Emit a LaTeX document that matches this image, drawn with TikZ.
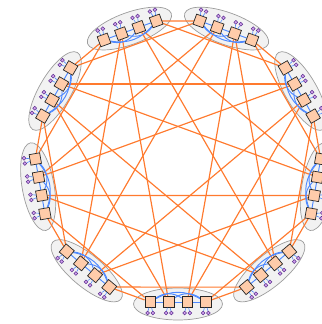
\documentclass[tikz,border=0pt]{standalone}
\usepackage{xcolor}
\usepackage{tikz}
\usetikzlibrary{shapes.geometric, positioning, backgrounds, calc}
\definecolor{dfpeach}{HTML}{FFCCAA}
\definecolor{dforange}{HTML}{FF7A2E}
\definecolor{dfblue}{HTML}{4D88FF}
\definecolor{dfgray}{HTML}{F2F2F2}
\definecolor{dfedge}{HTML}{9C9C9C}
\definecolor{dfviolet}{HTML}{D3A2EE}
\definecolor{dfplum}{HTML}{5E3290}

\begin{document}
\begin{tikzpicture}[
    router/.style={draw=black!85,line width=0.6pt,fill=dfpeach,minimum size=0.32cm,inner sep=0pt},
    host/.style={circle,draw=dfplum,line width=0.45pt,fill=dfviolet,minimum size=0.115cm,inner sep=0pt},
    group/.style={ellipse,draw=dfedge,line width=0.6pt,fill=dfgray,minimum width=2.67cm,minimum height=0.96cm,inner sep=0pt},
    glink/.style={dforange,line width=1pt},
    llink/.style={dfblue,line width=0.8pt},
    hlink/.style={dfblue,line width=0.5pt},
  ]
    \useasboundingbox (-5.34,-4.86) rectangle (4.29,4.86);
    % nine groups of four routers, two hosts per router
    \foreach \g in {0,...,8} {
      \pgfmathsetmacro{\t}{-90+40*\g}
      \begin{scope}[on background layer]
        \node[group, rotate=\t+90] (grp-\g) at (\t:4.26) {};
      \end{scope}
      \foreach \r in {0,...,3} {
        \node[router, rotate=\t] (r-\g-\r) at ($(\t:4.2)+(\t+90:{(\r-1.5)*0.555})$) {};
        \node[host] (h-\g-\r-a) at ($(r-\g-\r)+(\t:0.33)+(\t+90:0.08)$) {};
        \node[host] (h-\g-\r-b) at ($(r-\g-\r)+(\t:0.33)-(\t+90:0.08)$) {};
        \draw[hlink] (r-\g-\r) -- (h-\g-\r-a);
        \draw[hlink] (r-\g-\r) -- (h-\g-\r-b);
      }
    }
    % global links
    \begin{scope}[on background layer]
      \foreach \g in {0,...,8}
        \foreach \k/\ra/\rb in {0/0/3,1/0/3,2/1/2,3/1/2} {
          \pgfmathtruncatemacro{\j}{mod(\g+8-\k,9)}
          \draw[glink] (r-\g-\ra) -- (r-\j-\rb);
        }
      % local links
      \foreach \g in {0,...,8}
        \foreach \a/\b/\bnd in {0/1/0,1/2/0,2/3/0,0/2/35,1/3/35,0/3/30}
          \draw[llink] (r-\g-\a) to[bend left=\bnd] (r-\g-\b);
    \end{scope}
  \end{tikzpicture}
\end{document}
